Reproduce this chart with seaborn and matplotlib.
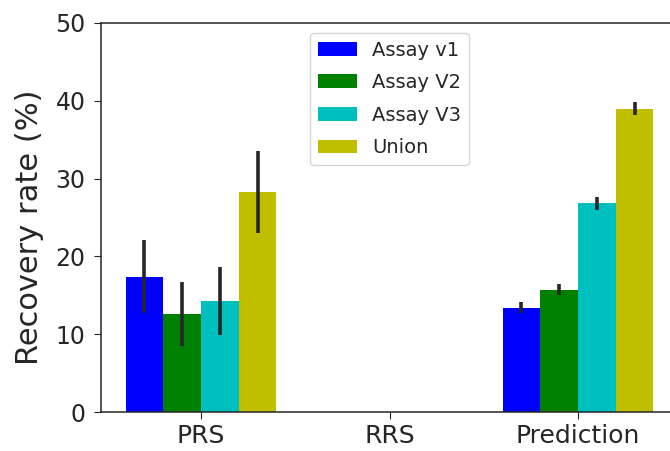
import numpy as np
import pandas as pd
import matplotlib
matplotlib.use("Agg")
import matplotlib.pyplot as plt
import seaborn as sns

categories = ["PRS", "RRS", "Prediction"]
assays = ["Assay v1", "Assay V2", "Assay V3", "Union"]
# values per assay for each category (None = no bar)
assay_v1 = [17.4, None, 13.4]
assay_v2 = [12.6, None, 15.7]
assay_v3 = [14.3, None, 26.8]
union = [28.3, None, 39.0]
err_v1 = [4.65, None, 0.7]
err_v2 = [4.1, None, 0.7]
err_v3 = [4.35, None, 0.8]
err_union = [5.3, None, 0.8]
colors = ["b", "g", "c", "y"]

vals = {"Assay v1": assay_v1, "Assay V2": assay_v2, "Assay V3": assay_v3, "Union": union}
errs = {"Assay v1": err_v1, "Assay V2": err_v2, "Assay V3": err_v3, "Union": err_union}

rows = []
for a in assays:
    for c, v, e in zip(categories, vals[a], errs[a]):
        if v is not None:
            rows.append({"category": c, "assay": a, "value": v, "err": e})
df = pd.DataFrame(rows)

sns.set_style("ticks", {"axes.edgecolor": ".15"})
fig = plt.figure(figsize=(6.7, 4.51), dpi=100)
ax = fig.add_axes([101 / 670, 39 / 451, 577 / 670, 389 / 451])

sns.barplot(data=df, x="category", y="value", hue="assay", order=categories,
            hue_order=assays, palette=colors, errorbar=None, saturation=1,
            linewidth=0, width=0.8, ax=ax)

err_lookup = {(r.category, r.assay): (r.value, r.err) for r in df.itertuples()}
for a, cont in zip(assays, ax.containers):
    for bar in cont:
        h = bar.get_height()
        if not np.isfinite(h):
            continue
        xc = bar.get_x() + bar.get_width() / 2
        cat = categories[int(round(xc))]
        v, e = err_lookup[(cat, a)]
        ax.vlines(xc, v - e, v + e, color=".15", linewidth=2.6, zorder=5)

ax.set_xlim(-0.53, 2.53)
ax.set_ylim(0, 50)
ax.set_yticks([0, 10, 20, 30, 40, 50])
ax.set_xlabel("")
ax.set_ylabel("Recovery rate (%)", fontsize=22)
ax.yaxis.set_label_coords(-0.098, 0.475)
ax.tick_params(axis="both", length=5)
ax.tick_params(axis="x", labelsize=18)
ax.tick_params(axis="y", labelsize=17, pad=6)
for s in ax.spines.values():
    s.set_linewidth(1.1)
ax.legend(loc="upper center", fontsize=14, labelspacing=0.7, frameon=True)

fig.savefig("out.png", dpi=100)
